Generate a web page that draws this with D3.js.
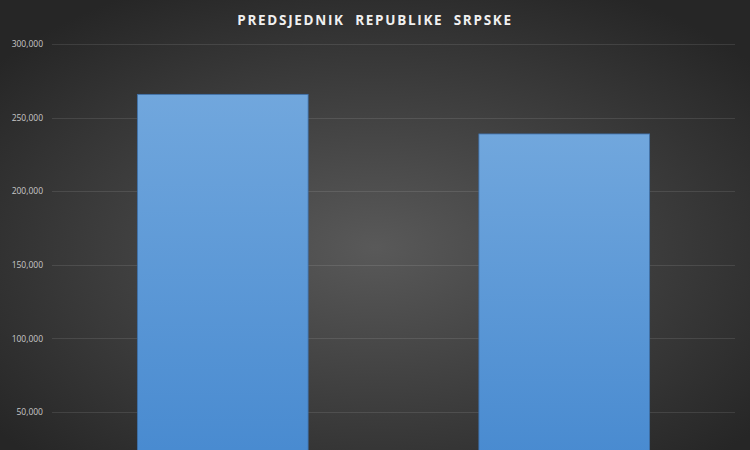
<!DOCTYPE html>
<html>
<head>
<meta charset="utf-8">
<script src="https://cdn.jsdelivr.net/npm/d3@7"></script>
<style>
  html, body { margin: 0; padding: 0; background: #262626; overflow: hidden; }
  svg { display: block; }
</style>
</head>
<body>
<svg id="chart" width="750" height="450"></svg>
<script>
// values (the category axis is cut off below the frame)
const candidates = ["Milorad Dodik", "Jelena Trivić"];
const votes = [265800, 238900];
const yTicks = [50000, 100000, 150000, 200000, 250000, 300000];
const chartTitle = "PREDSJEDNIK  REPUBLIKE  SRPSKE";

const width = 750,
    height = 450;
const margin = { top: 44, right: 15, left: 52 };
const zeroY = 485.6; // plot floor lies below the visible frame

const svg = d3.select("#chart");
const defs = svg.append("defs");

// background: soft radial light in the middle
const bg = defs
    .append("radialGradient")
    .attr("id", "bg")
    .attr("cx", "50%")
    .attr("cy", "55%")
    .attr("r", "65%");
bg.append("stop").attr("offset", "0%").attr("stop-color", "#595959");
bg.append("stop").attr("offset", "100%").attr("stop-color", "#262626");

const barFill = defs
    .append("linearGradient")
    .attr("id", "barFill")
    .attr("x1", 0)
    .attr("y1", 0)
    .attr("x2", 0)
    .attr("y2", 1);
barFill.append("stop").attr("offset", "0%").attr("stop-color", "#71a7dd");
barFill.append("stop").attr("offset", "100%").attr("stop-color", "#4588cf");

svg.append("rect")
    .attr("width", width)
    .attr("height", height)
    .attr("fill", "url(#bg)");

const x = d3
    .scaleBand()
    .domain(candidates)
    .range([margin.left, width - margin.right])
    .paddingInner(0.5)
    .paddingOuter(0.25);

const y = d3.scaleLinear().domain([0, 300000]).range([zeroY, margin.top]);

// gridlines
svg.append("g")
    .selectAll("line")
    .data(yTicks)
    .join("line")
    .attr("x1", margin.left)
    .attr("x2", width - margin.right)
    .attr("y1", (d) => Math.round(y(d)) + 0.5)
    .attr("y2", (d) => Math.round(y(d)) + 0.5)
    .attr("stroke", "#ffffff")
    .attr("stroke-opacity", 0.1)
    .attr("stroke-width", 1);

// y axis labels
const yAxis = d3
    .axisLeft(y)
    .tickValues(yTicks)
    .tickSize(0)
    .tickPadding(9)
    .tickFormat(d3.format(","));

svg.append("g")
    .attr("transform", `translate(${margin.left},0)`)
    .call(yAxis)
    .call((g) => g.select(".domain").remove())
    .selectAll("text")
    .attr("fill", "#c8c8c8")
    .style("font-family", "'Open Sans', 'DejaVu Sans', sans-serif")
    .style("font-size", "8.5px");

// bars
svg.append("g")
    .selectAll("rect")
    .data(candidates)
    .join("rect")
    .attr("x", (d) => x(d))
    .attr("y", (d, i) => y(votes[i]))
    .attr("width", x.bandwidth())
    .attr("height", (d, i) => zeroY - y(votes[i]))
    .attr("fill", "url(#barFill)")
    .attr("stroke", "#3d6fa8")
    .attr("stroke-width", 0.8);

// title
svg.append("text")
    .attr("x", width / 2)
    .attr("y", 25)
    .attr("text-anchor", "middle")
    .attr("fill", "#f0f0f0")
    .style("font-family", "'Open Sans', 'DejaVu Sans', sans-serif")
    .style("font-weight", "bold")
    .style("font-size", "13.5px")
    .style("letter-spacing", "1.7px")
    .style("white-space", "pre")
    .text(chartTitle);
</script>
</body>
</html>
